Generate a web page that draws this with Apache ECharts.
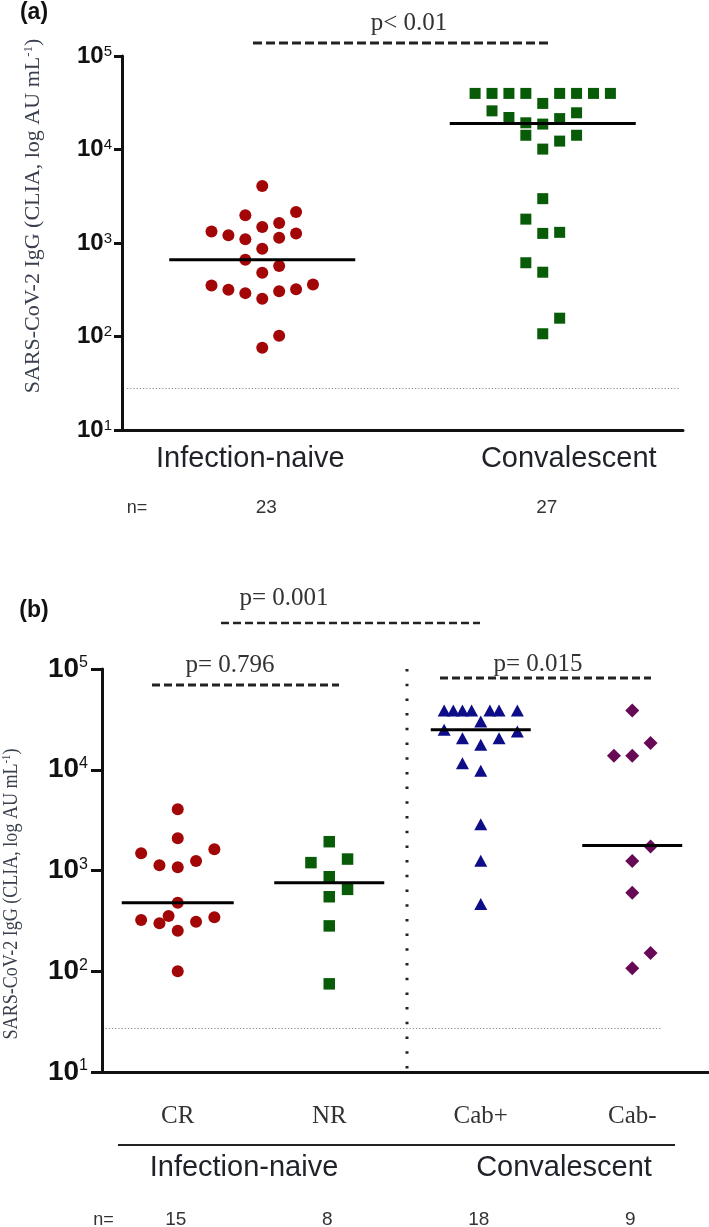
<!DOCTYPE html>
<html><head><meta charset="utf-8">
<script src="https://cdn.jsdelivr.net/npm/echarts/dist/echarts.min.js"></script>
<style>html,body{margin:0;padding:0;background:#fff}#c{width:709px;height:1227px}</style>
</head><body><div id="c"></div><script>
// ---------- DATA ----------
const catsA = ['Infection-naive', 'Convalescent'];
const catsB = ['CR', 'NR', 'Cab+', 'Cab-'];
const groupsB = ['Infection-naive', 'Convalescent'];
const yName = 'SARS-CoV-2 IgG (CLIA, log AU mL';
const yNameSup = '-1';
const pTextA = 'p< 0.01';
const pTextsB = ['p= 0.001', 'p= 0.796', 'p= 0.015'];

// Panel (a)
const naiveA = [4070, 1980, 2140, 1635, 1480, 1330, 1260, 1210, 1095, 1140, 870, 662, 566, 481, 352, 360, 316, 321, 305, 291, 253, 102, 76];
const naiveASlot = [0, -1, 2, 1, 0, -3, 2, -2, -1, 1, 0, -1, 1, 0, -3, 3, -2, 2, 1, -1, 0, 1, 0];
const convA = [39800, 39800, 39800, 39800, 39800, 39800, 39800, 39800, 31100, 25900, 24700, 22000, 21400, 19300, 18700, 14200, 14200, 12300, 10100, 2980, 1800, 1267, 1300, 615, 487, 157, 107];
const convASlot = [-4, -3, -2, -1, 1, 2, 3, 4, 0, -3, 2, -2, 1, -1, 0, -1, 2, 1, 0, 0, -1, 0, 1, -1, 0, 1, 0];
const medianA = [662, 19000];
const lodA = 28;

// Panel (b)
const crB = [4060, 2090, 1483, 1626, 1128, 1077, 1242, 479, 322, 299, 353, 310, 343, 252, 100];
const crBSlot = [0, 0, -2, 2, -1, 0, 1, 0, -2, -1, -0.5, 1, 2, 0, 0];
const nrB = [1932, 1197, 1299, 867, 650, 549, 282, 75];
const nrBSlot = [0, -1, 1, 0, 1, 0, 0, 0];
const cabPosB = [38700, 38700, 38700, 38700, 38700, 38700, 38700, 30100, 24900, 24000, 20600, 20600, 17700, 11600, 9750, 2880, 1253, 464];
const cabPosBSlot = [-2, -1.5, -1, -0.5, 0.5, 1, 2, 0, -2, 2, -1, 1, 0, -1, 0, 0, 0, 0];
const cabNegB = [38700, 18400, 13800, 13800, 1726, 1242, 601, 152, 107];
const cabNegBSlot = [0, 1, -1, 0, 1, 0, 0, 1, 0];
const medianB = [479, 757, 24900, 1766];
const lodB = 27;

// ---------- STYLE ----------
const RED = '#a30606', GREEN = '#085c08', BLUE = '#0d0d88', PURPLE = '#660a56';
const SW_A = 0.0603, SW_B = 0.1208;
const SANS = 'Liberation Sans, Arial, sans-serif';
const SERIF = 'Liberation Serif, Times New Roman, serif';

function pts(vals, slots, cat, sw) { return vals.map((v, i) => [cat + slots[i] * sw, v]); }

function yLabel(big, sup, margin) {
  return {
    margin: margin,
    formatter: v => '{b|10}{s|' + Math.round(Math.log10(v)) + '}',
    rich: {
      b: { fontSize: big, fontWeight: 'bold', fontFamily: SANS, color: '#111' },
      s: { fontSize: sup, fontFamily: SANS, color: '#111', verticalAlign: 'top' }
    }
  };
}
function yAxisDef(gi, tickLen, big, sup, margin) {
  return {
    type: 'log', gridIndex: gi, logBase: 10, min: 10, max: 100000,
    axisLine: { show: true, onZero: false, lineStyle: { color: '#111', width: 3 } },
    axisTick: { show: true, length: tickLen, lineStyle: { color: '#111', width: 3 } },
    minorTick: { show: false }, splitLine: { show: false },
    axisLabel: yLabel(big, sup, margin)
  };
}
const lodStyle = { color: '#8a8a8a', type: [1.2, 2], width: 1, opacity: 1 };
function dotStyle(c) { return { color: c, opacity: 1 }; }

const chart = echarts.init(document.getElementById('c'));
chart.setOption({
  animation: false,
  backgroundColor: '#fff',
  grid: [
    { left: 122, top: 56, width: 561, height: 374 },
    { left: 102, top: 669, width: 606, height: 403 }
  ],
  xAxis: [
    {
      type: 'category', gridIndex: 0, data: catsA,
      axisLine: { onZero: false, lineStyle: { color: '#111', width: 3 } },
      axisTick: { alignWithLabel: true, length: 9, lineStyle: { color: '#111', width: 3 } },
      axisLabel: {
        interval: 0, margin: 14,
        formatter: (v, i) => (i === 0 ? '{l|' : '{r|') + v + '}',
        rich: {
          l: { fontSize: 29, fontFamily: SANS, color: '#1f2229', padding: [0, 24, 0, 0] },
          r: { fontSize: 29, fontFamily: SANS, color: '#1f2229', padding: [0, 0, 0, 52] }
        }
      }
    },
    { type: 'value', gridIndex: 0, min: -0.5, max: 1.5, show: false },
    {
      type: 'category', gridIndex: 1, data: catsB,
      axisLine: { onZero: false, lineStyle: { color: '#111', width: 3 } },
      axisTick: { alignWithLabel: true, length: 11, lineStyle: { color: '#111', width: 3 } },
      axisLabel: { interval: 0, margin: 32, fontSize: 25, fontFamily: SERIF, color: '#333' }
    },
    { type: 'value', gridIndex: 1, min: -0.5, max: 3.5, show: false }
  ],
  yAxis: [
    yAxisDef(0, 8, 24, 15, 10),
    yAxisDef(1, 11, 28, 16, 14)
  ],
  series: [
    {
      type: 'scatter', xAxisIndex: 1, yAxisIndex: 0, symbol: 'circle', symbolSize: 12,
      itemStyle: dotStyle(RED), data: pts(naiveA, naiveASlot, 0, SW_A),
      markLine: { silent: true, symbol: ['none', 'none'], label: { show: false }, lineStyle: lodStyle,
        data: [[{ coord: [-0.482, lodA] }, { coord: [1.486, lodA] }]] }
    },
    {
      type: 'scatter', xAxisIndex: 1, yAxisIndex: 0, symbol: 'rect', symbolSize: 11,
      itemStyle: dotStyle(GREEN), data: pts(convA, convASlot, 1, SW_A)
    },
    {
      type: 'scatter', xAxisIndex: 1, yAxisIndex: 0, symbol: 'rect', symbolSize: [186, 3], z: 5,
      itemStyle: dotStyle('#000'), data: medianA.map((m, i) => [i, m])
    },
    {
      type: 'scatter', xAxisIndex: 3, yAxisIndex: 1, symbol: 'circle', symbolSize: 12,
      itemStyle: dotStyle(RED), data: pts(crB, crBSlot, 0, SW_B),
      markLine: { silent: true, symbol: ['none', 'none'], label: { show: false }, lineStyle: lodStyle,
        data: [[{ coord: [-0.477, lodB] }, { coord: [3.196, lodB] }]] }
    },
    {
      type: 'scatter', xAxisIndex: 3, yAxisIndex: 1, symbol: 'rect', symbolSize: 11.5,
      itemStyle: dotStyle(GREEN), data: pts(nrB, nrBSlot, 1, SW_B)
    },
    {
      type: 'scatter', xAxisIndex: 3, yAxisIndex: 1, symbol: 'triangle', symbolSize: [13, 12],
      itemStyle: dotStyle(BLUE), data: pts(cabPosB, cabPosBSlot, 2, SW_B)
    },
    {
      type: 'scatter', xAxisIndex: 3, yAxisIndex: 1, symbol: 'diamond', symbolSize: 14,
      itemStyle: dotStyle(PURPLE), data: pts(cabNegB, cabNegBSlot, 3, SW_B)
    },
    {
      type: 'scatter', xAxisIndex: 3, yAxisIndex: 1, symbol: 'rect', z: 5,
      itemStyle: dotStyle('#000'),
      data: medianB.map((m, i) => ({ value: [i, m], symbolSize: [[112, 110, 100, 100][i], 3] }))
    }
  ]
});

// ---------- annotations ----------
function txt(x, y, text, size, family, color, weight) {
  return { type: 'text', x: x, y: y, style: { text: text, fontSize: size, fontFamily: family, fontWeight: weight || 'normal',
    fill: color, align: 'center', verticalAlign: 'middle', textAlign: 'center', textVerticalAlign: 'middle' } };
}
function line(x1, y1, x2, y2, w, dash, color) {
  return { type: 'line', shape: { x1: x1, y1: y1, x2: x2, y2: y2 },
    style: { stroke: color || '#222', lineWidth: w, lineDash: dash || null } };
}
function yNameEl(x, y, size, sx) {
  return { type: 'text', x: x, y: y, rotation: Math.PI / 2, scaleX: sx, scaleY: 1,
    style: { text: '{m|' + yName + '}{s|' + yNameSup + '}{m|)}', align: 'center', verticalAlign: 'middle',
      textAlign: 'center', textVerticalAlign: 'middle',
      rich: { m: { fontSize: size, fontFamily: SERIF, fill: '#3a404d', color: '#3a404d' },
              s: { fontSize: Math.round(size * 0.6), fontFamily: SERIF, fill: '#3a404d', color: '#3a404d', verticalAlign: 'top' } } } };
}
const nA = [naiveA.length, convA.length];
const nB = [crB.length, nrB.length, cabPosB.length, cabNegB.length];
const g = [];
g.push(txt(34, 13, '(a)', 23, SANS, '#111', 'bold'));
g.push(txt(409, 23, pTextA, 25, SERIF, '#333'));
g.push(line(253, 43, 550, 43, 3, [9, 4]));
g.push(yNameEl(33.5, 216, 22, 1));
g.push(txt(137, 508, 'n=', 18, SANS, '#333'));
nA.forEach((n, i) => g.push(txt(chart.convertToPixel({ xAxisIndex: 1 }, i) + 4, 508, String(n), 19, SANS, '#333')));

g.push(txt(34, 611, '(b)', 23, SANS, '#111', 'bold'));
g.push(txt(284, 598, pTextsB[0], 25, SERIF, '#333'));
g.push(line(221, 623, 480, 623, 2.5, [8, 4]));
g.push(txt(230, 665, pTextsB[1], 25, SERIF, '#333'));
g.push(line(152, 685, 339, 685, 3, [8, 4]));
g.push(txt(538, 664, pTextsB[2], 25, SERIF, '#333'));
g.push(line(440, 678, 651, 678, 3, [8, 4]));
g.push(line(407, 669, 407, 1072, 3, [2.5, 12.2]));
g.push(line(118, 1145, 675, 1145, 2));
g.push(txt(244, 1168, groupsB[0], 29, SANS, '#1f2229'));
g.push(txt(564, 1168, groupsB[1], 29, SANS, '#1f2229'));
g.push(yNameEl(11, 894, 22, 0.82));
g.push(txt(103.5, 1220, 'n=', 18, SANS, '#333'));
nB.forEach((n, i) => g.push(txt(chart.convertToPixel({ xAxisIndex: 3 }, i) - 2, 1220, String(n), 19, SANS, '#333')));
chart.setOption({ graphic: g });
</script></body></html>
